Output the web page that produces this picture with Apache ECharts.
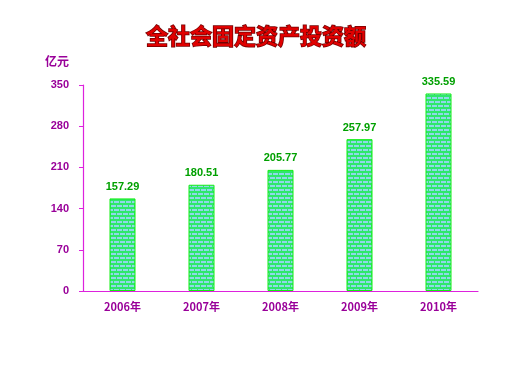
<!DOCTYPE html>
<html><head><meta charset="utf-8">
<script src="https://cdn.jsdelivr.net/npm/echarts@6/dist/echarts.min.js"></script>
<style>html,body{margin:0;padding:0;background:#fff}#c{width:512px;height:384px}</style>
</head><body><div id="c"></div>
<script>
const categories = ['2006年','2007年','2008年','2009年','2010年'];
const values = [157.29, 180.51, 205.77, 257.97, 335.59];
const yTicks = [0, 70, 140, 210, 280, 350];

// brick pattern
const pc = document.createElement('canvas');
pc.width = 12; pc.height = 8;
const g = pc.getContext('2d');
g.fillStyle = '#2ee86a'; g.fillRect(0,0,12,8);
g.fillStyle = '#8fd8e8';
g.fillRect(0,1,5,2); g.fillRect(6,1,5,2);
g.fillRect(3,5,5,2); g.fillRect(9,5,3,2); g.fillRect(0,5,2,2);

const chart = echarts.init(document.getElementById('c'), null, {renderer:'canvas'});
chart.setOption({
  animation:false,
  title:{text:'全社会固定资产投资额', left:'center', top:20,
    textStyle:{fontFamily:'Noto Sans CJK SC', fontSize:22, fontWeight:'bold', color:'#e00000', textBorderColor:'#700000', textBorderWidth:1.5}},
  grid:{left:83, right:34, top:85, bottom:93},
  xAxis:{type:'category', data:categories,
    axisLine:{show:true, lineStyle:{color:'#dd22dd', width:1.2}},
    axisTick:{show:false},
    axisLabel:{color:'#990099', fontWeight:'bold', fontSize:11, fontFamily:'Noto Sans CJK SC', margin:10}},
  yAxis:{type:'value', min:0, max:350, interval:70,
    name:'亿元', nameLocation:'end', nameGap:18,
    nameTextStyle:{color:'#990099', fontWeight:'bold', fontSize:12, fontFamily:'Noto Sans CJK SC', align:'right', padding:[0,14,0,0]},
    axisLine:{show:true, lineStyle:{color:'#dd22dd', width:1.2}},
    axisTick:{show:true, length:4, lineStyle:{color:'#dd22dd', width:1}},
    splitLine:{show:false},
    axisLabel:{color:'#990099', fontWeight:'bold', fontSize:11, fontFamily:'Liberation Sans', margin:14,
      formatter: v => yTicks.includes(v) ? String(v) : ''}},
  series:[{type:'bar', data:values, barWidth:26,
    itemStyle:{color:{image:pc, repeat:'repeat'}, borderColor:'#11ee11', borderWidth:1},
    label:{show:true, position:'top', distance:6, color:'#00a000', fontWeight:'bold', fontSize:11, fontFamily:'Liberation Sans',
      formatter: p => p.value.toFixed(2)}}]
});
</script></body></html>
